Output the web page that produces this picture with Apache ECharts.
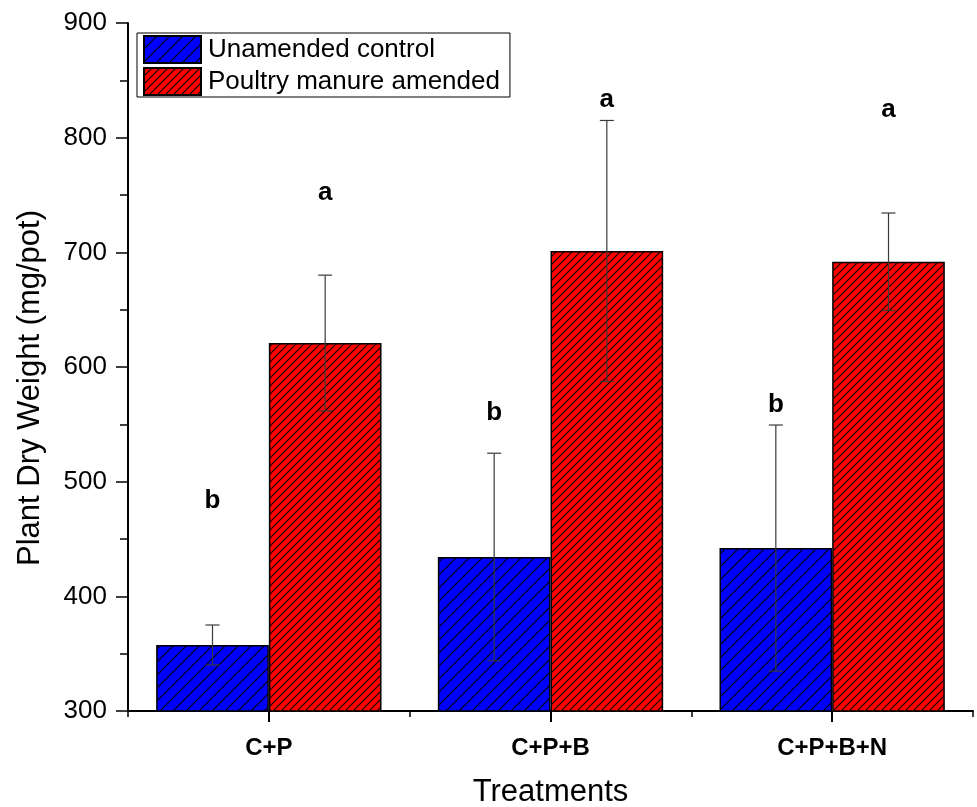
<!DOCTYPE html>
<html>
<head>
<meta charset="utf-8">
<script src="https://cdn.jsdelivr.net/npm/echarts@6/dist/echarts.min.js"></script>
<style>
html,body{margin:0;padding:0;background:#fff;}
#chart{width:977px;height:807px;}
</style>
</head>
<body>
<div id="chart"></div>
<script>
// ---- data ----
const categories = ['C+P', 'C+P+B', 'C+P+B+N'];
const seriesNames = ['Unamended control', 'Poultry manure amended'];
const controlMean = [357.6, 434.3, 442.1];
const controlSD = [17.4, 90.5, 107.3];
const manureMean = [620.9, 701.2, 691.8];
const manureSD = [59.2, 113.8, 42.5];
const controlLetters = ['b', 'b', 'b'];
const manureLetters = ['a', 'a', 'a'];
const controlLetterPos = [483, 560, 567];
const manureLetterPos = [752, 833, 824];
const yTicks = { min: 300, max: 900, interval: 100 };

const FONT = '"Liberation Sans", Arial, sans-serif';

function hatch(bg, p) {
  const c = document.createElement('canvas');
  c.width = p; c.height = p;
  const ctx = c.getContext('2d');
  ctx.fillStyle = bg;
  ctx.fillRect(0, 0, p, p);
  ctx.strokeStyle = '#000';
  ctx.lineWidth = 1.1;
  ctx.beginPath();
  ctx.moveTo(-1, p + 1); ctx.lineTo(p + 1, -1);
  ctx.moveTo(-1, 1); ctx.lineTo(1, -1);
  ctx.moveTo(p - 1, p + 1); ctx.lineTo(p + 1, p - 1);
  ctx.stroke();
  return c;
}

const bluePattern = { image: hatch('#0000FF', 13), repeat: 'repeat' };
const redPattern = { image: hatch('#FF0000', 8), repeat: 'repeat' };

function errRender(sign, sds) {
  return function (params, api) {
    const i = api.value(0), m = api.value(1);
    const e = sds[params.dataIndex];
    const band = api.size([1, 0])[0];
    const x = api.coord([i, m])[0] + sign * band * 0.2;
    const yTop = api.coord([i, m + e])[1];
    const yBot = api.coord([i, m - e])[1];
    const hw = 7;
    const st = { stroke: '#3a3a3a', lineWidth: 1.2 };
    return {
      type: 'group',
      children: [
        { type: 'line', shape: { x1: x, y1: yTop, x2: x, y2: yBot }, style: st },
        { type: 'line', shape: { x1: x - hw, y1: yTop, x2: x + hw, y2: yTop }, style: st },
        { type: 'line', shape: { x1: x - hw, y1: yBot, x2: x + hw, y2: yBot }, style: st }
      ]
    };
  };
}

function letterRender(sign, letters) {
  return function (params, api) {
    const i = api.value(0), v = api.value(1);
    const band = api.size([1, 0])[0];
    const pt = api.coord([i, v]);
    return {
      type: 'text',
      x: pt[0] + sign * band * 0.2,
      y: pt[1],
      style: {
        text: letters[params.dataIndex],
        font: 'bold 26px ' + FONT,
        fill: '#000',
        align: 'center',
        verticalAlign: 'middle'
      }
    };
  };
}

const chart = echarts.init(document.getElementById('chart'));
chart.setOption({
  backgroundColor: '#fff',
  animation: false,
  grid: { left: 128, right: 4, top: 23, bottom: 96, containLabel: false, outerBoundsMode: 'none' },
  legend: {
    left: 137, top: 33,
    orient: 'vertical',
    selectedMode: false,
    itemWidth: 57, itemHeight: 27, itemGap: 3,
    padding: [2, 10, 1, 6],
    borderColor: '#000', borderWidth: 1,
    backgroundColor: '#fff',
    textStyle: { fontFamily: FONT, fontSize: 26, color: '#000', padding: [0, 0, 0, 2], lineHeight: 27 },
    data: [
      { name: seriesNames[0], icon: 'rect' },
      { name: seriesNames[1], icon: 'rect' }
    ]
  },
  xAxis: [
    {
      type: 'category',
      data: categories,
      position: 'bottom',
      name: 'Treatments',
      nameLocation: 'middle',
      nameGap: 66,
      nameTextStyle: { fontFamily: FONT, fontSize: 31, color: '#000' },
      axisLine: { show: true, lineStyle: { color: '#000', width: 2 } },
      axisTick: { show: true, interval: 0, length: 6, lineStyle: { color: '#000', width: 1.5 } },
      axisLabel: { fontFamily: FONT, fontSize: 24, fontWeight: 'bold', color: '#000', margin: 25, interval: 0 },
      splitLine: { show: false }
    },
    {
      type: 'category',
      data: categories,
      position: 'bottom',
      offset: 0,
      axisLine: { show: false },
      axisTick: { show: true, interval: 0, alignWithLabel: true, length: 11, lineStyle: { color: '#000', width: 2 } },
      axisLabel: { show: false },
      splitLine: { show: false }
    }
  ],
  yAxis: {
    type: 'value',
    min: yTicks.min, max: yTicks.max, interval: yTicks.interval,
    name: 'Plant Dry Weight (mg/pot)',
    nameLocation: 'middle',
    nameGap: 82,
    nameTextStyle: { fontFamily: FONT, fontSize: 31, color: '#000', padding: [0, 42, 0, 0] },
    axisLine: { show: true, lineStyle: { color: '#000', width: 2 } },
    axisTick: { show: true, length: 12, lineStyle: { color: '#000', width: 1.5 } },
    minorTick: { show: true, splitNumber: 2, length: 8, lineStyle: { color: '#000', width: 1.5 } },
    axisLabel: { fontFamily: FONT, fontSize: 26, color: '#000', margin: 21 },
    splitLine: { show: false }
  },
  series: [
    {
      name: seriesNames[0],
      type: 'bar',
      data: controlMean,
      barGap: '0%',
      barCategoryGap: '20%',
      itemStyle: { color: bluePattern, borderColor: '#000', borderWidth: 1.5 }
    },
    {
      name: seriesNames[1],
      type: 'bar',
      data: manureMean,
      barGap: '0%',
      barCategoryGap: '20%',
      itemStyle: { color: redPattern, borderColor: '#000', borderWidth: 1.5 }
    },
    {
      type: 'custom',
      renderItem: errRender(-1, controlSD),
      data: controlMean.map((v, i) => [i, v]),
      encode: { x: 0, y: 1 },
      z: 5, silent: true
    },
    {
      type: 'custom',
      renderItem: errRender(1, manureSD),
      data: manureMean.map((v, i) => [i, v]),
      encode: { x: 0, y: 1 },
      z: 5, silent: true
    },
    {
      type: 'custom',
      renderItem: letterRender(-1, controlLetters),
      data: controlLetterPos.map((v, i) => [i, v]),
      encode: { x: 0, y: 1 },
      z: 6, silent: true
    },
    {
      type: 'custom',
      renderItem: letterRender(1, manureLetters),
      data: manureLetterPos.map((v, i) => [i, v]),
      encode: { x: 0, y: 1 },
      z: 6, silent: true
    }
  ]
});
</script>
</body>
</html>
